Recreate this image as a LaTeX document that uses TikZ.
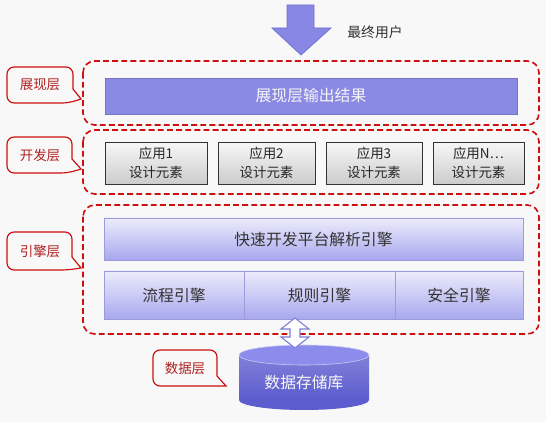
\documentclass[tikz,border=0pt]{standalone}
\usepackage{fontspec}
\setmainfont{Noto Sans CJK SC}

\definecolor{pagebg}{HTML}{F8F8F8}
\definecolor{layerred}{HTML}{CC1010}
\definecolor{tagred}{HTML}{B02020}
\definecolor{userblue}{HTML}{8888E4}
\definecolor{userline}{HTML}{6E6ED0}
\definecolor{outblue}{HTML}{8A8AE4}
\definecolor{engtop}{HTML}{ECECFC}
\definecolor{engbot}{HTML}{A8A8EE}
\definecolor{engline}{HTML}{9C9CDC}
\definecolor{dbtop}{HTML}{8C8CEC}
\definecolor{dbbot}{HTML}{5C5CCE}

\newcommand{\pxlen}{0.03cm}

\tikzset{
  layerbox/.style={draw=layerred, line width=1.4pt, dash pattern=on 5pt off 2.8pt, rounded corners=10pt},
  tagline/.style={draw=layerred, line width=1pt, fill=pagebg},
  tagtext/.style={text=tagred, font=\fontsize{11.5}{14}\selectfont},
  outbar/.style={fill=outblue, draw=outblue!85!black, line width=0.4pt, inner sep=0pt,
    text=white!92!gray, font=\fontsize{13.5}{16}\selectfont},
  appbox/.style={top color=gray!6, bottom color=gray!40, draw=gray!40!black, line width=0.6pt,
    inner sep=0pt, align=center, text=black!85, font=\fontsize{11.5}{16}\selectfont},
  engbox/.style={top color=engtop, bottom color=engbot, draw=engline, line width=0.6pt,
    inner sep=0pt, text=black!80, font=\fontsize{13.5}{16}\selectfont},
}

\begin{document}
\begin{tikzpicture}[x=0.03cm, y=-0.03cm]

\fill[pagebg] (0,0) rectangle (546,422);
\useasboundingbox (0,0) rectangle (546,422);

% end user arrow:
\draw[fill=userblue, draw=userline, line width=0.6pt]
  (287,5) -- (314,5) -- (314,28) -- (331,28) -- (301,55) -- (272,28) -- (287,28) -- cycle;
\node[text=black!80, font=\fontsize{11.8}{14}\selectfont] (user) at (375,32) {最终用户};

% layers:
\draw[layerbox] (83,61) rectangle (539,125);
\draw[layerbox] (83,130) rectangle (539,194);
\draw[layerbox] (83,205) rectangle (539,334);

% presentation layer:
\node[outbar, minimum width=412*\pxlen, minimum height=36*\pxlen] (out) at (311,96) {展现层输出结果};

% development layer:
\node[appbox, minimum width=102*\pxlen, minimum height=42*\pxlen] (app1) at (156,163) {应用1\\设计元素};
\node[appbox, minimum width=97*\pxlen, minimum height=42*\pxlen] (app2) at (266.5,163) {应用2\\设计元素};
\node[appbox, minimum width=96*\pxlen, minimum height=42*\pxlen] (app3) at (374,163) {应用3\\设计元素};
\node[appbox, minimum width=91*\pxlen, minimum height=42*\pxlen] (app4) at (478.5,163) {应用N…\\设计元素};

% engine layer:
\node[engbox, minimum width=419*\pxlen, minimum height=42*\pxlen] (parse) at (313.5,239) {快速开发平台解析引擎};
\node[engbox, minimum width=140*\pxlen, minimum height=48*\pxlen] (flow) at (174,295) {流程引擎};
\node[engbox, minimum width=151*\pxlen, minimum height=48*\pxlen] (rule) at (319.5,295) {规则引擎};
\node[engbox, minimum width=128*\pxlen, minimum height=48*\pxlen] (safe) at (459,295) {安全引擎};

% data layer:
\fill[dbbot] (304,400) ellipse [x radius=65, y radius=10];
\shade[top color=dbtop!92!black, bottom color=dbbot] (239,355) rectangle (369,400);
\filldraw[fill=dbtop, draw=white!55!dbtop, line width=0.5pt] (304,355) ellipse [x radius=65, y radius=10];
\node[text=white!94!gray, font=\fontsize{13.5}{16}\selectfont] (store) at (304,383) {数据存储库};

\draw[fill=white, draw=userline!90, line width=0.9pt]
  (295,318) -- (309,329) -- (300,329) -- (300,337) -- (309,337) -- (295,348)
  -- (281,337) -- (290,337) -- (290,329) -- (281,329) -- cycle;

% layer tags:
\draw[tagline] (81,99) -- (73,89) [rounded corners=6pt] -- (73,67) -- (7,67) -- (7,103) -- (69,103) [sharp corners] -- cycle;
\node[tagtext] (tagshow) at (40,85) {展现层};

\draw[tagline] (81,169) -- (72,159) [rounded corners=6pt] -- (72,137) -- (7,137) -- (7,173) -- (68,173) [sharp corners] -- cycle;
\node[tagtext] (tagdev) at (40,155) {开发层};

\draw[tagline] (81,268) -- (72,257) [rounded corners=6pt] -- (72,232) -- (7,232) -- (7,270) -- (68,270) [sharp corners] -- cycle;
\node[tagtext] (tageng) at (40,251) {引擎层};

\draw[tagline] (226,386) -- (217,376) [rounded corners=6pt] -- (217,350) -- (153,350) -- (153,386) -- (213,386) [sharp corners] -- cycle;
\node[tagtext] (tagdata) at (185,368) {数据层};

\end{tikzpicture}
\end{document}
